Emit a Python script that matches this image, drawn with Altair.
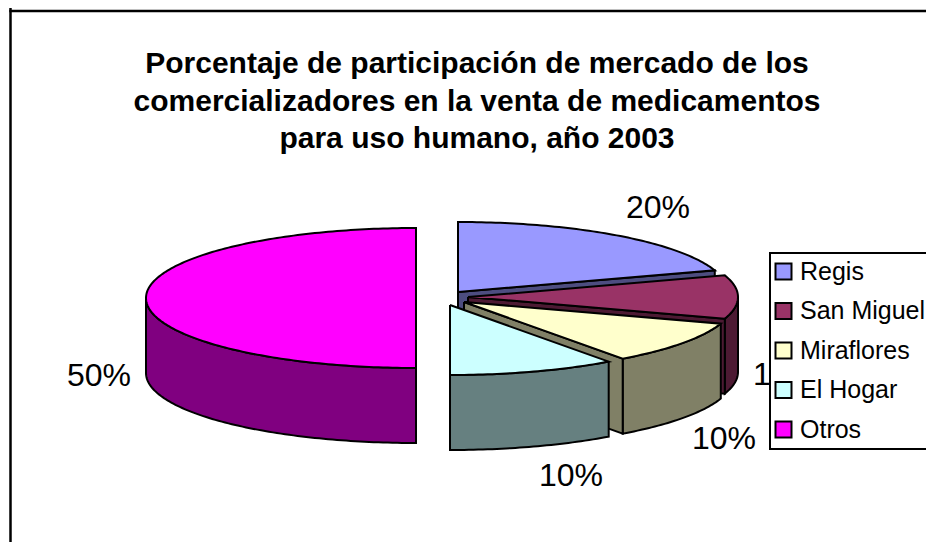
import math
import altair as alt
import pandas as pd

title_lines = ["Porcentaje de participación de mercado de los",
               "comercializadores en la venta de medicamentos",
               "para uso humano, año 2003"]
names = ["Regis", "San Miguel", "Miraflores", "El Hogar", "Otros"]
shares = [20, 10, 10, 10, 50]
top_colors = ["#9999FF", "#993366", "#FFFFCC", "#CCFFFF", "#FF00FF"]
side_colors = ["#4D4D80", "#4D1A33", "#808066", "#668080", "#800080"]

# exploded-slice layout of the projected 3D pie (page pixels)
apex_x = [458, 468, 464, 450, 416]
apex_y = [292, 297, 302, 305, 298]
RX, RY, DEPTH = 270, 70, 75
has_cut_face = [True, True, True, False, False]
label_x = [658, 785, 724, 571, 99]
label_y = [208, 375, 439, 476, 376]

FONT = "Liberation Sans"
W, H = 918, 534
X = alt.X("x:Q", axis=None, scale=alt.Scale(domain=[8, 8 + W], range=[0, W]))
Y = alt.Y("y:Q", axis=None, scale=alt.Scale(domain=[8, 8 + H], range=[0, H]))


def rim(ax, ay, a0, a1, dy=0):
    n = max(2, int(a1 - a0) + 1)
    return [(ax + RX * math.sin(math.radians(a0 + (a1 - a0) * k / (n - 1))),
             ay + dy - RY * math.cos(math.radians(a0 + (a1 - a0) * k / (n - 1))))
            for k in range(n)]


def frame(pts, name):
    pts = pts + [pts[0]]
    return pd.DataFrame({"x": [p[0] for p in pts], "y": [p[1] for p in pts],
                         "i": range(len(pts)), "name": name})


def side(df, color):
    return alt.Chart(df).mark_line(filled=True, fill=color, stroke="black", strokeWidth=2).encode(
        x=X, y=Y, order=alt.Order("i:Q"))


legend = alt.Legend(title=None, orient="none", legendX=762, legendY=245, values=names,
                    fillColor="white", strokeColor="black", padding=6,
                    symbolType="square", symbolSize=256, symbolStrokeColor="black",
                    symbolStrokeWidth=2, symbolOpacity=1, symbolOffset=-5,
                    labelFont=FONT, labelFontSize=25,
                    labelColor="black", labelOffset=4, labelLimit=200, rowPadding=13.5,
                    zindex=1)
color = alt.Fill("name:N", scale=alt.Scale(domain=names, range=top_colors), legend=legend)

layers = []
pos = 0.0
for k, name in enumerate(names):
    a0 = pos / sum(shares) * 360
    pos += shares[k]
    a1 = pos / sum(shares) * 360
    ax, ay = apex_x[k], apex_y[k]
    ra0, ra1 = max(a0, 90), min(a1, 270)
    if ra1 > ra0:
        layers.append(side(frame(rim(ax, ay, ra0, ra1) + rim(ax, ay, ra0, ra1, DEPTH)[::-1], name),
                           side_colors[k]))
    if has_cut_face[k]:
        end = rim(ax, ay, a1, a1)[0]
        layers.append(side(frame([(ax, ay), end, (end[0], end[1] + DEPTH), (ax, ay + DEPTH)], name),
                           side_colors[k]))
    layers.append(alt.Chart(frame([(ax, ay)] + rim(ax, ay, a0, a1), name))
                  .mark_line(filled=True, stroke="black", strokeWidth=2)
                  .encode(x=X, y=Y, order=alt.Order("i:Q"), fill=color))

labels = pd.DataFrame({"x": label_x, "y": label_y, "t": [f"{s}%" for s in shares]})
layers.append(alt.Chart(labels).mark_text(font=FONT, fontSize=32, color="black", align="center",
                                          baseline="middle").encode(x=X, y=Y, text="t:N"))

frame_left = alt.Chart(pd.DataFrame({"a": [0]})).mark_rule(color="black", strokeWidth=2.5).encode(
    x=alt.value(2.5), y=alt.value(0), y2=alt.value(H))
frame_top = alt.Chart(pd.DataFrame({"a": [0]})).mark_rule(color="black", strokeWidth=2.5).encode(
    y=alt.value(3), x=alt.value(1.3), x2=alt.value(W))

chart = alt.layer(frame_left, frame_top, *layers).properties(
    width=W, height=H, padding=0, autosize=alt.AutoSizeParams(type="none"),
    title=alt.TitleParams(text=title_lines, font=FONT, fontSize=30, fontWeight="bold", color="black",
                          lineHeight=37.5, anchor="middle", align="center", baseline="top",
                          orient="top", offset=0, dx=10, dy=147.5),
).configure_view(stroke=None).configure_legend(strokeWidth=2)

chart.save("out.html", embed_options={"renderer": "svg", "actions": False})
